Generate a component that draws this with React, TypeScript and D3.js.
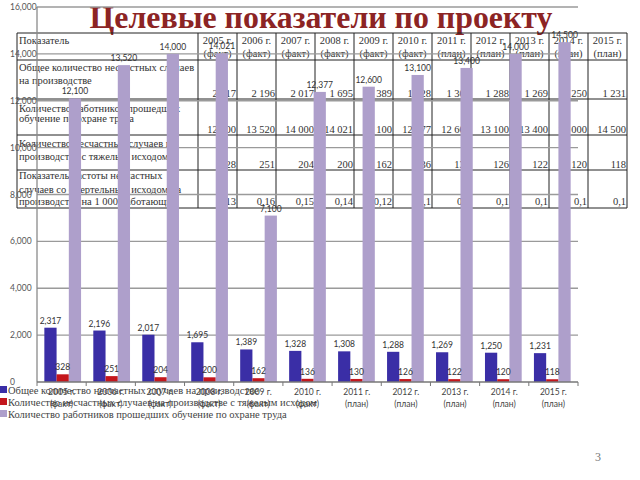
import React from 'react';
import * as d3 from 'd3';

const years = ['2005', '2006', '2007', '2008', '2009', '2010', '2011', '2012', '2013', '2014', '2015'];
const yearStatus = ['факт', 'факт', 'факт', 'факт', 'факт', 'факт', 'план', 'план', 'план', 'план', 'план'];
const totalAccidents = [2317, 2196, 2017, 1695, 1389, 1328, 1308, 1288, 1269, 1250, 1231];
const severeAccidents = [328, 251, 204, 200, 162, 136, 130, 126, 122, 120, 118];
const trainedWorkers = [12100, 13520, 14000, 14021, 7100, 12377, 12600, 13100, 13400, 14000, 14500];
const fatalityRate = ['0,13', '0,16', '0,15', '0,14', '0,12', '0,1', '0,1', '0,1', '0,1', '0,1', '0,1'];
const seriesNames = [
  'Общее количество несчастных случаев на производстве',
  'Количество несчастных случаев на производстве с тяжелым исходом',
  'Количество работников прошедших обучение по охране труда',
];
const seriesColors = ['#3a2ea6', '#c4161c', '#ae9fcb'];
const yTicks = [0, 2000, 4000, 6000, 8000, 10000, 12000, 14000, 16000];
const titleText = 'Целевые показатели по проекту';
const tableHeader = 'Показатель';
const rowLabels = [
  ['Общее количество несчастных случаев', 'на производстве'],
  ['Количество работников прошедших', 'обучение по охране труда'],
  ['Количество несчастных случаев на', 'производстве с тяжелым исходом'],
  ['Показатель частоты несчастных', 'случаев со смертельным исходом на', 'производстве на 1 000 работающих'],
];
const pageNumber = '3';

export default function App() {
  const plotL = 37, plotR = 578, plotT = 7, plotB = 382;
  const x0 = d3.scaleBand<string>().domain(years).range([plotL, plotR]).paddingInner(0.25).paddingOuter(0.15);
  const x1 = d3.scaleBand<number>().domain([0, 1, 2]).range([0, x0.bandwidth()]);
  const y = d3.scaleLinear().domain([0, 16000]).range([plotB, plotT]);
  const series = [totalAccidents, severeAccidents, trainedWorkers];
  const fmtComma = d3.format(',');
  const ru = d3.formatLocale({ decimal: ',', thousands: '\u00a0', grouping: [3], currency: ['', ''] });
  const fmtSpace = ru.format(',');
  const step = (plotR - plotL) / years.length;
  const boundaries = d3.range(years.length + 1).map((i) => plotL + i * step);
  const center = (d: string) => plotL + (years.indexOf(d) + 0.5) * step;

  // table
  const tL = 17, tFirst = 198, tR = 627;
  const rowLines = [33, 60, 99, 135, 170, 208];
  const tx = d3.scaleBand<string>().domain(years).range([tFirst, tR]);
  const tableValues = [
    totalAccidents.map((v) => fmtSpace(v)),
    trainedWorkers.map((v) => fmtSpace(v)),
    severeAccidents.map((v) => String(v)),
    fatalityRate,
  ];
  const valueBaselines = [97, 133, 168, 205];
  const labelBaselines = [[71, 84], [112, 122], [147, 160], [179, 193, 205]];

  const serif = '"Liberation Serif", "Times New Roman", serif';
  const sans = 'Lato, "Liberation Sans", sans-serif';

  return (
    <svg width={640} height={480} style={{ position: 'absolute', left: 0, top: 0, background: '#fff' }}>
      <rect x={0} y={0} width={640} height={480} fill="#fff" />
      {/* title */}
      <text x={321} y={28} textAnchor="middle" fontFamily={serif} fontWeight="bold" fontSize={32}
        textLength={463} lengthAdjust="spacingAndGlyphs" fill="#8c2424">
        {titleText}
      </text>

      {/* table */}
      <g stroke="#222" strokeWidth={1}>
        {rowLines.map((ry, i) => (
          <line key={'r' + i} x1={tL} x2={tR} y1={ry} y2={ry} />
        ))}
        <line x1={tL} x2={tL} y1={rowLines[0]} y2={rowLines[rowLines.length - 1]} />
        <line x1={tFirst} x2={tFirst} y1={rowLines[0]} y2={rowLines[rowLines.length - 1]} />
        {years.map((d) => (
          <line key={'c' + d} x1={tx(d)! + tx.bandwidth()} x2={tx(d)! + tx.bandwidth()} y1={rowLines[0]} y2={rowLines[rowLines.length - 1]} />
        ))}
      </g>
      <g fontFamily={serif} fontSize={10.5} fill="#333">
        <text x={19} y={44}>{tableHeader}</text>
        {years.map((d, i) => (
          <g key={'h' + d}>
            <text x={tx(d)! + tx.bandwidth() / 2} y={44} textAnchor="middle">{d + ' г.'}</text>
            <text x={tx(d)! + tx.bandwidth() / 2} y={57} textAnchor="middle">{'(' + yearStatus[i] + ')'}</text>
          </g>
        ))}
        {rowLabels.map((lines, r) =>
          lines.map((ln, k) => (
            <text key={'l' + r + k} x={19} y={labelBaselines[r][k]}>{ln}</text>
          ))
        )}
        {tableValues.map((vals, r) =>
          vals.map((v, i) => (
            <text key={'v' + r + i} x={tx(years[i])! + tx.bandwidth() - 1} y={valueBaselines[r]} textAnchor="end">{v}</text>
          ))
        )}
      </g>

      {/* gridlines */}
      <g stroke="#9a9a9a" strokeWidth={1.3}>
        {yTicks.filter((t) => t > 0).map((t) => (
          <line key={'g' + t} x1={plotL} x2={plotR} y1={y(t)} y2={y(t)} />
        ))}
      </g>
      <line x1={plotL} x2={plotL} y1={plotT} y2={plotB} stroke="#8a8a8a" strokeWidth={1.3} />
      <g fontFamily={sans} fontSize={8.5} fill="#555">
        {yTicks.map((t) => (
          <text key={'yt' + t} x={10} y={y(t) + 3}>{fmtComma(t)}</text>
        ))}
      </g>

      {/* bars */}
      {series.map((vals, s) => (
        <g key={'s' + s} fill={seriesColors[s]}>
          {vals.map((v, i) => (
            <rect key={i} x={x0(years[i])! + x1(s)!} y={y(v)} width={x1.bandwidth()} height={y(0) - y(v)} />
          ))}
        </g>
      ))}

      {/* x axis */}
      <line x1={plotL} x2={plotR} y1={plotB} y2={plotB} stroke="#777" strokeWidth={1.3} />
      <g stroke="#777" strokeWidth={1}>
        {boundaries.map((bx, i) => (
          <line key={'tk' + i} x1={bx} x2={bx} y1={plotB} y2={plotB + 4} />
        ))}
      </g>

      {/* data labels */}
      <g fontFamily={sans} fontSize={8.5} fill="#333" textAnchor="middle">
        {series.map((vals, s) =>
          vals.map((v, i) => (
            <text key={'dl' + s + i} x={x0(years[i])! + x1(s)! + x1.bandwidth() / 2} y={y(v) - 4}>{fmtComma(v)}</text>
          ))
        )}
      </g>

      {/* x labels */}
      <g fontFamily={sans} fontSize={8.5} fill="#444" textAnchor="middle">
        {years.map((d, i) => (
          <g key={'xl' + d}>
            <text x={center(d)} y={395}>{d + ' г.'}</text>
            <text x={center(d)} y={407}>{'(' + yearStatus[i] + ')'}</text>
          </g>
        ))}
      </g>

      {/* legend */}
      <g fontFamily={serif} fontSize={10.5} fill="#444">
        {seriesNames.map((n, i) => (
          <g key={'lg' + i}>
            <rect x={0} y={386 + i * 12} width={7} height={7} fill={seriesColors[i]} />
            <text x={8} y={394 + i * 12}>{n}</text>
          </g>
        ))}
      </g>

      <text x={598} y={461} fontFamily={serif} fontSize={12} fill="#777" textAnchor="middle">{pageNumber}</text>
    </svg>
  );
}
